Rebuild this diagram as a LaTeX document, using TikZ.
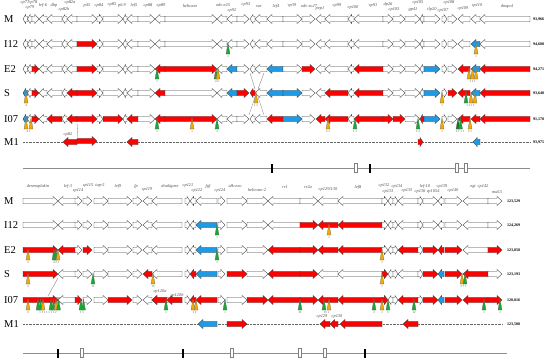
\documentclass[tikz,border=0pt]{standalone}
\usepackage{fontspec}
\setmainfont{Liberation Serif}
\definecolor{cR}{RGB}{255,0,0}
\definecolor{cB}{RGB}{30,155,230}
\definecolor{cG}{RGB}{20,170,50}
\definecolor{cO}{RGB}{240,170,0}
\tikzset{
  genestyle/.style={draw=black!75, line width=0.35pt, line join=miter},
  rowlab/.style={anchor=west, inner sep=0pt, font=\fontsize{10.5}{10.5}\selectfont},
  numr/.style={anchor=west, inner sep=0pt, font=\fontsize{4}{4}\selectfont\bfseries},
  glab/.style={inner sep=0pt, text=black!70, font=\fontsize{4.4}{4.4}\selectfont\itshape},
  mlab/.style={inner sep=0pt, text=black!70, font=\fontsize{3}{3}\selectfont},
  mkstyle/.style={draw=black!60, line width=0.25pt},
  thinline/.style={draw=black!55, line width=0.3pt},
  baseline/.style={draw=black!60, line width=0.4pt, densely dotted},
  scaleline/.style={draw=black!45, line width=0.6pt},
}
\newcount\nlc
\newcommand\gene[5]{%
 \pgfmathsetmacro\gS{(#4==1)?#2:#3}%
 \pgfmathsetmacro\gE{(#4==1)?#3:#2}%
 \pgfmathsetmacro\gN{\gE-(#4)*min(5,0.6*(#3-#2))}%
 \filldraw[genestyle,fill=#5] (\gS,#1-2.7) -- (\gN,#1-2.7) -- (\gN,#1-4.5) -- (\gE,#1) -- (\gN,#1+4.5) -- (\gN,#1+2.7) -- (\gS,#1+2.7) -- cycle;}
\newcommand\generow[3]{%
 \foreach \ga/\gb/\gd [count=\gi] in #2 {%
   \ifcsname cc#3-\gi\endcsname \edef\gcl{\csname cc#3-\gi\endcsname}\else\def\gcl{white}\fi
   \gene{#1}{\ga}{\gb}{\gd}{\gcl}}}
\newcommand\setgc[2]{\foreach \gk/\gcol in {#2}{\expandafter\xdef\csname cc#1-\gk\endcsname{\gcol}}}
\newcommand\mk[3]{\filldraw[mkstyle,fill=#3] (#1,#2-1) -- (#1-2,#2+10) -- (#1+2,#2+10) -- cycle;}
\newcommand\ml[3]{\global\advance\nlc by 1 \node[mlab] (ml\the\nlc) at (#1,#2+13) {#3};}
\newcommand\gl[3]{\global\advance\nlc by 1 \node[glab] (gl\the\nlc) at (#1,#2) {#3};}
\newcommand\bk[2]{\fill[black] (#1-1.2,#2-4.5) rectangle (#1+1.2,#2+4.5);}
\newcommand\wb[2]{\filldraw[fill=white,draw=black!50,line width=0.3pt] (#1-1.4,#2-4.5) rectangle (#1+1.4,#2+4.5);}

\def\toplist{23/27.5/-1, 27.5/32/-1, 32/39/1, 39/47/-1, 47/62/-1, 62/67/-1, 67/77/-1, 77/97/1, 97/103/1, 103/123/1, 123/127/-1, 127/138/-1, 138/155/1, 155/165/-1, 165/217/1, 217/227/-1, 227/237/-1, 237/249/1, 250/255/-1, 255/267/-1, 267/283/-1, 283/302/1, 302/315/1, 316/325/-1, 325/348/-1, 348/354/-1, 354/383/-1, 383/393/1, 393/405/1, 405/420/1, 420/424/-1, 424/440/1, 442/447/1, 448/457/1, 458/470/-1, 471/480/-1, 480/530/-1}
\def\botlist{23/58/1, 58/76/-1, 75/82/1, 83/92/1, 94/108/1, 108/132/1, 133/142/1, 143/152/-1, 152/182/-1, 185/190/1, 190/196/-1, 196/217/-1, 218/225/1, 227/247/1, 247/268/1, 268/300/-1, 300/318/1, 318/338/-1, 338/382/-1, 382/388/1, 388/393/-1, 393/398/1, 398/418/-1, 418/423/1, 423/438/1, 438/444/-1, 445/462/1, 463/488/-1, 488/502/1}

\setgc{It}{8/cR,36/cB}
\setgc{Et}{3/cR,8/cR,14/cR,15/cR,17/cB,21/cB,23/cR,27/cR,32/cB,35/cR,36/cB,37/cR}
\setgc{St}{1/cB,3/cR,7/cR,8/cR,14/cR,17/cB,18/cR,19/cR,21/cB,22/cB,25/cR,27/cR,32/cB,34/cR,35/cR,36/cB,37/cR}
\setgc{Ot}{1/cB,3/cR,5/cR,7/cR,8/cR,10/cR,12/cR,14/cR,15/cR,21/cR,22/cB,24/cR,25/cR,27/cR,28/cR,29/cR,31/cR,32/cB,35/cR,36/cR,37/cR}
\setgc{Ib}{12/cB,17/cR,18/cR,19/cR}
\setgc{Eb}{1/cR,2/cR,4/cR,12/cB,16/cR,17/cR,18/cR,19/cR,23/cR,25/cR,26/cR,27/cR,29/cR}
\setgc{Sb}{1/cR,8/cR,11/cR,12/cB,14/cR,16/cR,17/cR,20/cR,25/cR,26/cB,27/cR,28/cR}
\setgc{Ob}{1/cR,3/cR,6/cR,11/cR,12/cR,15/cR,16/cR,17/cR,18/cR,19/cR,20/cR,23/cR,25/cR,26/cB,27/cR,28/cR,29/cR}

\begin{document}
\begin{tikzpicture}[x=1pt,y=-1pt]
\useasboundingbox (0,0) rectangle (550,364);

% ---------- row labels ----------
\node[rowlab] (tM) at (4,19) {M};
\node[rowlab] (tI12) at (4,44) {I12};
\node[rowlab] (tE2) at (4,69) {E2};
\node[rowlab] (tS) at (4,93) {S};
\node[rowlab] (tI07) at (4,119) {I07};
\node[rowlab] (tM1) at (4,142) {M1};
\node[rowlab] (bM) at (4,201) {M};
\node[rowlab] (bI12) at (4,225) {I12};
\node[rowlab] (bE2) at (4,250) {E2};
\node[rowlab] (bS) at (4,274) {S};
\node[rowlab] (bI07) at (4,300) {I07};
\node[rowlab] (bM1) at (4,324) {M1};

% ---------- top half ----------
\draw[baseline] (23,142) -- (530,142);
\draw[thinline] (250,73) -- (255,89);
\draw[thinline] (264,73) -- (258,89);
\draw[thinline] (255,97) -- (249,115);
\draw[thinline] (258,97) -- (264,115);
\draw[thinline] (77,123) -- (78,138);

\generow{19}{\toplist}{Mt}
\generow{44}{\toplist}{It}
\generow{69}{\toplist}{Et}
\generow{93}{\toplist}{St}
\generow{119}{\toplist}{Ot}
% M1 top
\gene{142}{63}{77}{-1}{cR}
\gene{141}{77}{97}{1}{cR}
\gene{142}{127}{138}{-1}{cR}
\gene{142}{418}{423}{1}{cR}
\gene{142}{473}{480}{-1}{cB}
\gl{68}{135}{cp82}

% gene labels top
\foreach \t/\x/\y in {cp77/25/3, cp78/33/3, cp79/30/8, lef-6/43/5, dbp/54/5, cp82a/70/3, cp82b/64/9, p45/87/6, cp84/99/6, cp85/112/5, p6.9/122/6, lef5/134/5, cp88/148/6, cp89/161/6, helicase/190/6, odv-e25/223/5, cp92/232/11, cp93/246/5, sor/259/6, lef4/276/6, vp39/292/6, odv-ec27/309/6, pep1/320/9, cp99/337/6, cp100/353/8, vp91/373/6, dp26/388/4, cp103/394/10, gp41/413/10, cp105/418/3, tlp20/432/9, cp107/443/11, cp108/449/3, cp109/463/9, cp110/477/6, dnapol/507/6}
  {\gl{\x}{\y}{\t}}

% markers top
\mk{228}{44}{cG}\ml{228}{44}{1}
\mk{476}{44}{cO}\ml{476}{44}{1}
\mk{157}{69}{cG}\ml{157}{69}{1}
\mk{216}{69}{cG}\mk{218}{69}{cO}\ml{217}{69}{4 2}
\mk{469}{69}{cO}\mk{472.5}{69}{cO}\mk{476}{69}{cO}\ml{472.5}{69}{1 1 1}
\mk{26}{93}{cO}\ml{26}{93}{4}
\mk{256}{93}{cO}\ml{256}{93}{1 1}
\mk{442}{93}{cO}\ml{442}{93}{1}
\mk{466}{93}{cG}\mk{471}{93}{cO}\mk{475}{93}{cO}\ml{470.5}{93}{1 2 1 1}
\mk{26}{119}{cO}\mk{31}{119}{cO}\ml{28.5}{119}{4 1}
\mk{157}{119}{cG}\ml{157}{119}{1}
\mk{192}{119}{cO}\ml{192}{119}{1}
\mk{217}{119}{cG}\ml{217}{119}{1}
\mk{328}{119}{cO}\ml{328}{119}{2 1}
\mk{355}{119}{cG}\ml{355}{119}{1 1}
\mk{418}{119}{cG}\ml{418}{119}{1 2}
\mk{442}{119}{cO}\ml{442}{119}{1}
\mk{458}{119}{cG!70!black}\mk{460.5}{119}{cG}\ml{460}{119}{3 1 1 1}
\mk{470}{119}{cO}\ml{470}{119}{2 1}

% numbers top
\node[numr] (nt1) at (533,19) {93,966};
\node[numr] (nt2) at (533,44) {94,688};
\node[numr] (nt3) at (533,69) {94,271};
\node[numr] (nt4) at (533,93) {93,640};
\node[numr] (nt5) at (533,119) {91,178};
\node[numr] (nt6) at (533,142) {93,975};

% scale top
\draw[scaleline] (23,168) -- (530,168);
\bk{272}{168}\wb{356}{168}\bk{370}{168}\wb{457}{168}\wb{466}{168}

% ---------- bottom half ----------
\draw[baseline] (23,324) -- (503,324);
\draw[thinline] (58,278) -- (48,296);
\generow{201}{\botlist}{Mb}
\generow{225}{\botlist}{Ib}
\generow{250}{\botlist}{Eb}
\generow{274}{\botlist}{Sb}
\fill[black!30] (49,297) rectangle (61,303);
\generow{300}{\botlist}{Ob}
\gene{300}{152}{167}{-1}{cR}
\gene{300}{167}{182}{-1}{cR}
\gl{160}{292}{cp120a}
\gl{177}{295}{cp120b}
% M1 bottom
\gene{324}{198}{217}{-1}{cB}
\gene{324}{227}{247}{1}{cR}
\gene{324}{320}{330}{-1}{cR}
\gene{324}{330}{338}{-1}{cR}
\gene{324}{340}{382}{-1}{cR}
\gene{324}{403}{418}{-1}{cR}
\gl{322}{317}{cp129}
\gl{337}{317}{cp130}

% gene labels bottom
\foreach \t/\x/\y in {desmoplakin/38/186, lef-3/68/186, cp114/78/191, cp115/88/186, iap-5/100/186, lef9/118/186, fp/136/186, cp119/147/190, dnaligase/170/186, cp121/188/186, cp122/197/191, fgf/208/186, cp124/220/191, alk-exo/235/186, helicase-2/257/190, rr1/285/187, rr2a/308/187, {cp129/130}/328/190, lef8/358/187, cp132/384/186, cp133/388/192, cp134/397/187, cp135/407/191, lef-10/425/186, cp136/420/192, vp1054/433/192, cp139/442/187, cp140/453/191, egt/473/187, cp142/483/187, ma53/497/192}
  {\gl{\x}{\y}{\t}}

% markers bottom
\mk{217}{225}{cG}\ml{217}{225}{1}
\mk{329}{225}{cO}\ml{329}{225}{1}
\mk{28}{250}{cO}\ml{28}{250}{3}
\mk{54}{250}{cG}\mk{56}{250}{cG}\mk{58}{250}{cO}\ml{56}{250}{4 2 1}
\mk{217}{250}{cG}\ml{217}{250}{1}
\mk{382}{250}{cO}\ml{382}{250}{1}
\mk{28}{274}{cO}\ml{28}{274}{3}
\mk{93}{274}{cG}\ml{93}{274}{11}
\mk{153}{274}{cO}\ml{153}{274}{15}
\mk{382}{274}{cO}\ml{382}{274}{1}
\mk{462}{274}{cO}\mk{465}{274}{cG}\ml{463.5}{274}{2 7 1}
\mk{28}{300}{cO}\ml{28}{300}{3}
\mk{38}{300}{cG}\mk{40.5}{300}{cG}\mk{43}{300}{cO}\mk{51}{300}{cG}\mk{53.5}{300}{cG}\mk{56}{300}{cO}\mk{58.5}{300}{cG}\ml{48}{300}{1 1 1 1 1 1 1 2}
\mk{81}{300}{cG}\mk{83.5}{300}{cG}\ml{82}{300}{1 1}
\mk{166}{300}{cG}\ml{166}{300}{1}
\mk{193}{300}{cO}\mk{196}{300}{cO}\ml{194.5}{300}{1 2}
\mk{225}{300}{cG}\ml{225}{300}{1}
\mk{300}{300}{cG}\ml{300}{300}{31}
\mk{324}{300}{cG}\mk{329}{300}{cO}\ml{326.5}{300}{15 1}
\mk{374}{300}{cG}\ml{374}{300}{3}
\mk{382}{300}{cO}\ml{382}{300}{1}
\mk{388}{300}{cG}\ml{388}{300}{5}
\mk{414}{300}{cG}\ml{414}{300}{12}
\mk{484}{300}{cG}\ml{484}{300}{1}
\mk{500}{300}{cG}\ml{500}{300}{1}

% numbers bottom
\node[numr] (nb1) at (507,201) {123,529};
\node[numr] (nb2) at (507,225) {124,269};
\node[numr] (nb3) at (507,250) {123,858};
\node[numr] (nb4) at (507,274) {123,193};
\node[numr] (nb5) at (507,300) {120,816};
\node[numr] (nb6) at (507,324) {123,500};

% scale bottom
\draw[scaleline] (23,353) -- (507,353);
\bk{58}{353}\wb{82}{353}\bk{183}{353}\wb{232}{353}\wb{300}{353}\wb{325}{353}\bk{365}{353}
\end{tikzpicture}
\end{document}
